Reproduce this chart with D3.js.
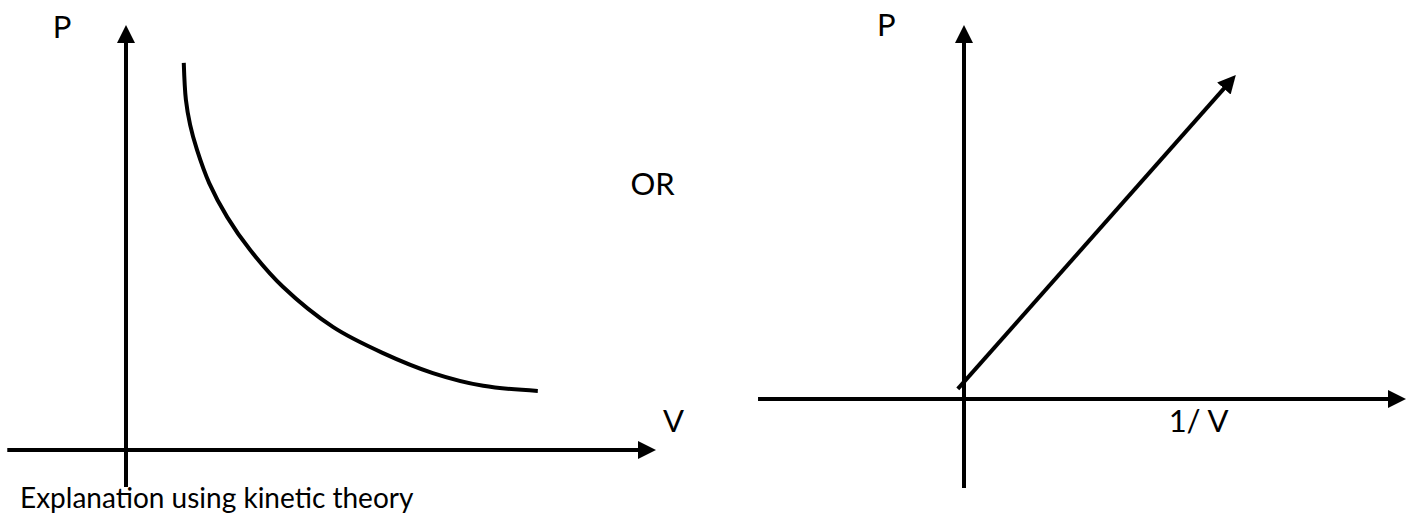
<!DOCTYPE html>
<meta charset="utf-8">
<title>Boyle's law graphs</title>
<script src="https://d3js.org/d3.v7.min.js"></script>
<style>
  body { margin: 0; background: #fff; }
  text { font-family: Lato, "Open Sans", sans-serif; fill: #000; }
  text.label { font-size: 31px; }
  text.note { font-size: 28px; }
  .ax, .mark { stroke: #000; stroke-width: 4px; fill: none; }
</style>
<div id="chart"></div>
<script>
// P against V (arbitrary units)
var curveV = [1.09, 1.13, 1.21, 1.34, 1.57, 1.91, 2.34, 2.96, 3.91, 4.85, 5.79, 6.74, 7.77];
var curveP = [9.11, 8.24, 7.65, 7.06, 6.28, 5.48, 4.71, 3.84, 2.89, 2.28, 1.81, 1.51, 1.39];
// P against 1/V straight line, start and end
var lineInvV = [-0.14, 6.15];
var lineP = [0.27, 8.66];
// axis extents
var leftXExtent = [-2.24, 10], leftYExtent = [-0.87, 10];
var rightXExtent = [-4.66, 10], rightYExtent = [-2.38, 10];
var labels = {p: "P", v: "V", inv: "1/ V", or: "OR", note: "Explanation using kinetic theory"};

var W = 1412, H = 516;
var svg = d3.select("#chart").append("svg")
    .attr("width", W).attr("height", H);

svg.append("defs").append("marker")
    .attr("id", "head")
    .attr("viewBox", "0 -9 18 18")
    .attr("refX", 10).attr("refY", 0)
    .attr("markerUnits", "userSpaceOnUse")
    .attr("markerWidth", 18).attr("markerHeight", 18)
    .attr("orient", "auto")
  .append("path")
    .attr("d", "M0,-9L18,0L0,9Z")
    .attr("fill", "#000");

// draw a line whose end gets an arrow head, tip landing on (x2,y2)
function arrow(x1, y1, x2, y2) {
  var dx = x2 - x1, dy = y2 - y1, len = Math.sqrt(dx*dx + dy*dy);
  svg.append("line").attr("class", "ax")
    .attr("x1", x1).attr("y1", y1)
    .attr("x2", x2 - dx/len*8).attr("y2", y2 - dy/len*8)
    .attr("marker-end", "url(#head)");
}

// ---- left graph
var xL = d3.scaleLinear().domain([0, 10]).range([126, 656]);
var yL = d3.scaleLinear().domain([0, 10]).range([450, 25]);

arrow(xL(leftXExtent[0]), yL(0), xL(leftXExtent[1]), yL(0));
arrow(xL(0), yL(leftYExtent[0]), xL(0), yL(leftYExtent[1]));

var pts = curveV.map(function(v, i) { return [v, curveP[i]]; });
svg.append("path").attr("class", "mark")
    .attr("d", d3.line()
      .x(function(d) { return xL(d[0]); })
      .y(function(d) { return yL(d[1]); })
      .curve(d3.curveCatmullRom.alpha(0.5))(pts));

svg.append("text").attr("class", "label")
    .attr("x", xL(-1.38)).attr("y", yL(9.7)).text(labels.p);
svg.append("text").attr("class", "label")
    .attr("x", xL(10.13)).attr("y", yL(0.42)).text(labels.v);
svg.append("text").attr("class", "label")
    .attr("x", xL(9.52)).attr("y", yL(6.0)).text(labels.or);
svg.append("text").attr("class", "note")
    .attr("x", 20).attr("y", 508).text(labels.note);

// ---- right graph
var xR = d3.scaleLinear().domain([0, 10]).range([964, 1406]);
var yR = d3.scaleLinear().domain([0, 10]).range([399, 25]);

arrow(xR(rightXExtent[0]), yR(0), xR(rightXExtent[1]), yR(0));
arrow(xR(0), yR(rightYExtent[0]), xR(0), yR(rightYExtent[1]));
arrow(xR(lineInvV[0]), yR(lineP[0]), xR(lineInvV[1]), yR(lineP[1]));

svg.append("text").attr("class", "label")
    .attr("x", xR(-1.97)).attr("y", yR(9.7)).text(labels.p);
svg.append("text").attr("class", "label")
    .attr("x", xR(4.63)).attr("y", yR(-0.88)).text(labels.inv);
</script>
